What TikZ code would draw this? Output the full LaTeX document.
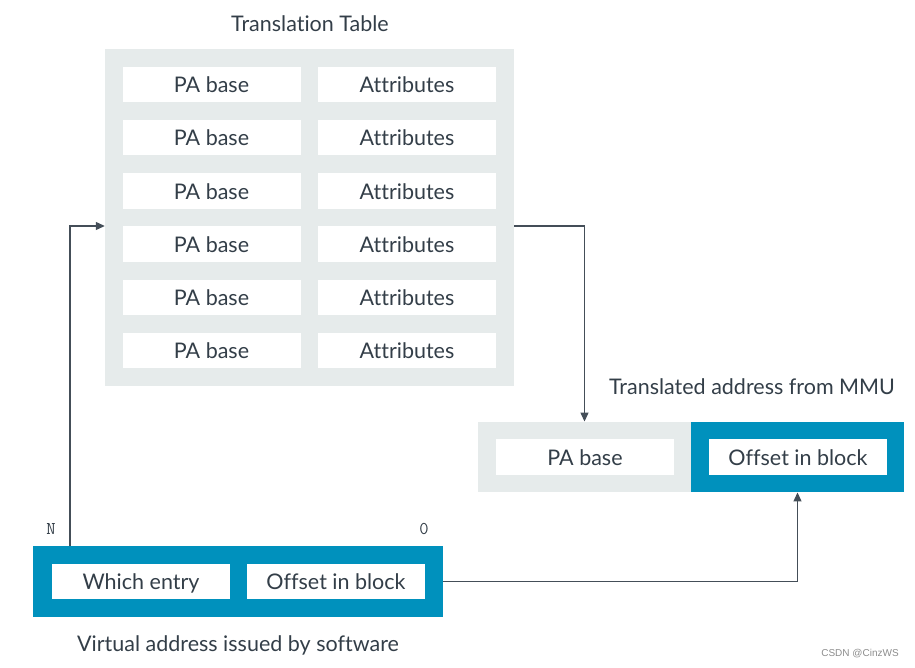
\documentclass[tikz,border=0pt]{standalone}
\usepackage{fontspec}
\setmainfont[Ligatures=NoCommon]{Lato}
\newfontfamily\wmfont{Liberation Sans}
\usetikzlibrary{arrows.meta}
\definecolor{tgray}{HTML}{E6EBEB}
\definecolor{tblue}{HTML}{0091BD}
\definecolor{ttext}{HTML}{333E48}
\definecolor{tline}{HTML}{444E58}
\begin{document}
\begin{tikzpicture}[x=1pt,y=-1pt,
  txt/.style={font=\fontsize{21.5}{24}\selectfont, text=ttext},
  cell/.style={txt, fill=white, minimum width=178pt, minimum height=35.5pt, inner sep=0pt, text height=18pt, text depth=1.5pt},
  graybox/.style={fill=tgray, inner sep=0pt},
  bluebox/.style={fill=tblue, inner sep=0pt},
  arr/.style={draw=tline, line width=1.2pt, -{Triangle[length=9pt,width=8pt]}},
  bitlbl/.style={font=\ttfamily\fontsize{18}{20}\selectfont, text=ttext}
]
\useasboundingbox (0,0) rectangle (915,668);
% Translation table
\node[txt] (title) at (310,24) {Translation Table};
\node[graybox, minimum width=409pt, minimum height=337pt] (tbl) at (309.5,217.5) {};
\foreach \i/\y in {1/84.5,2/137.7,3/190.9,4/244.1,5/297.3,6/350.5}{
  \node[cell] (pa\i) at (211.5,\y) {PA base};
  \node[cell] (at\i) at (407,\y) {Attributes};
}
% Translated address
\node[txt] (tlabel) at (752,387) {Translated address from MMU};
\node[graybox, minimum width=213pt, minimum height=70.5pt] (tgraybox) at (584.5,457) {};
\node[bluebox, minimum width=213pt, minimum height=70.5pt] (tbluebox) at (797.5,457) {};
\node[cell] (tpa) at (585,457) {PA base};
\node[cell] (toff) at (798,457) {Offset in block};
% Virtual address
\node[bluebox, minimum width=410pt, minimum height=71pt] (vab) at (238,581.5) {};
\node[cell] (which) at (141,581.5) {Which entry};
\node[cell] (voff) at (336,581.5) {Offset in block};
\node[bitlbl] (nlbl) at (51,529) {N};
\node[bitlbl] (zlbl) at (424,529) {0};
\node[txt] (vlabel) at (238,645) {Virtual address issued by software};
% connectors
\coordinate (rowy) at (0,226);
\coordinate (leftx) at (70,0);
\draw[arr] (tbl.east |- rowy) -| (tgraybox.north);
\draw[arr] (vab.north -| leftx) |- (tbl.west |- rowy);
\draw[arr] (vab.east) -| (tbluebox.south);
% watermark
\node[font=\wmfont\fontsize{10}{12}\selectfont, text=black!45] (wm) at (860,654) {CSDN @CinzWS};
\end{tikzpicture}
\end{document}
